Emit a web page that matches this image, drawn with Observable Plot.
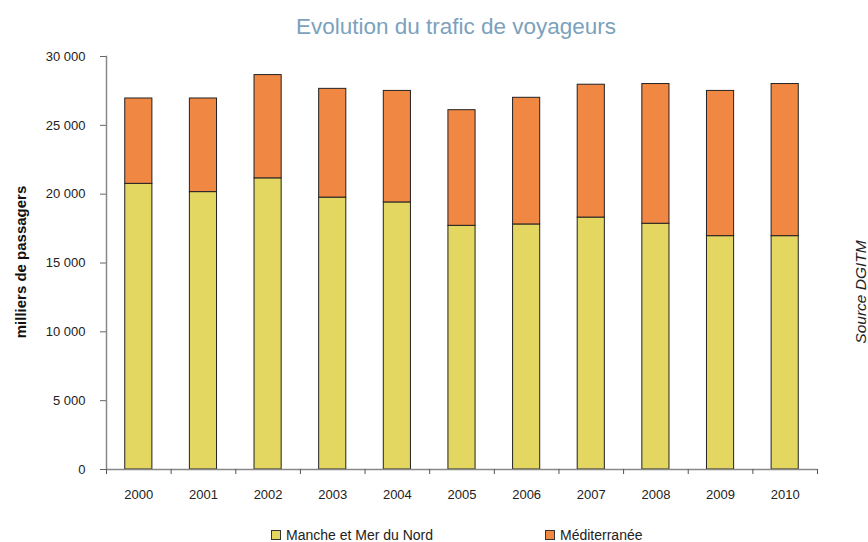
<!DOCTYPE html>
<html>
<head>
<meta charset="utf-8">
<script src="https://cdn.jsdelivr.net/npm/d3@7"></script>
<script src="https://cdn.jsdelivr.net/npm/@observablehq/plot@0.6"></script>
<style>
  html, body { margin: 0; padding: 0; background: #fff; }
  #wrap { position: relative; width: 868px; height: 542px; overflow: hidden; font-family: "Liberation Sans", Arial, sans-serif; color: #222; }
  #chart { position: absolute; left: 0; top: 0; }
  .abs { position: absolute; white-space: nowrap; }
  #title { left: 0; width: 912px; top: 14px; text-align: center; font-size: 22.5px; color: #7ba2bd; }
  #ylabel { left: 20px; top: 262px; transform: translate(-50%, -50%) rotate(-90deg); font-size: 15px; font-weight: bold; color: #111; }
  #source { left: 861px; top: 292px; transform: translate(-50%, -50%) rotate(-90deg); font-size: 15.5px; font-style: italic; color: #222; }
  #legend { left: 0; top: 527px; width: 868px; height: 15px; font-size: 14px; }
  .item { position: absolute; top: 0; display: flex; align-items: center; }
  .sw { width: 8px; height: 8px; border: 1px solid #333; margin-right: 5px; }
</style>
</head>
<body>
<div id="wrap">
  <div id="chart"></div>
  <div id="title" class="abs">Evolution du trafic de voyageurs</div>
  <div id="ylabel" class="abs">milliers de passagers</div>
  <div id="source" class="abs">Source DGITM</div>
  <div id="legend" class="abs"></div>
</div>
<script>
const years = ["2000", "2001", "2002", "2003", "2004", "2005", "2006", "2007", "2008", "2009", "2010"];
const manche = [20750, 20150, 21150, 19750, 19400, 17700, 17800, 18300, 17850, 16950, 16950];
const mediterranee = [6200, 6800, 7500, 7900, 8100, 8400, 9200, 9650, 10150, 10550, 11050];
const seriesNames = ["Manche et Mer du Nord", "Méditerranée"];
const seriesColors = ["#e3d762", "#f08743"];
const yTicks = [0, 5000, 10000, 15000, 20000, 25000, 30000];

const W = 868, H = 542, ML = 106, MR = 51, MT = 56, MB = 73;
const step = (W - ML - MR) / years.length;
const fmt = d => d3.format(",")(d).replace(/,/g, " ");

const rows = [
  ...years.map((y, i) => ({year: y, serie: seriesNames[0], value: manche[i]})),
  ...years.map((y, i) => ({year: y, serie: seriesNames[1], value: mediterranee[i]}))
];

const chart = Plot.plot({
  width: W, height: H,
  marginLeft: ML, marginRight: MR, marginTop: MT, marginBottom: MB,
  style: {fontFamily: "'Liberation Sans', Arial, sans-serif", fontSize: "13px", color: "#222", background: "transparent"},
  x: {type: "band", domain: years, paddingInner: 0.58, paddingOuter: 0.29, round: false, axis: null, label: null},
  y: {domain: [0, 30000], axis: null, label: null},
  color: {domain: seriesNames, range: seriesColors},
  marks: [
    Plot.barY(rows, {x: "year", y: "value", fill: "serie", stroke: "#222", strokeWidth: 1}),
    Plot.ruleY([0], {stroke: "#888", strokeWidth: 1.5}),
    Plot.frame({anchor: "left", stroke: "#888", strokeWidth: 1.5}),
    Plot.axisY(yTicks, {tickSize: 6, tickPadding: 15, tickFormat: fmt, stroke: "#666", fill: "#222", label: null}),
    Plot.axisX({tickSize: 0, tickPadding: 20, fill: "#222", label: null}),
    Plot.axisX(years, {tickSize: 5, tickFormat: () => "", dx: step / 2, stroke: "#555", label: null}),
    Plot.axisX([years[0]], {tickSize: 5, tickFormat: () => "", dx: -step / 2, stroke: "#555", label: null})
  ]
});
document.getElementById("chart").appendChild(chart);

const legend = document.getElementById("legend");
const legendX = [271, 545];
seriesNames.forEach((name, i) => {
  const item = document.createElement("div");
  item.className = "item";
  item.style.left = legendX[i] + "px";
  const sw = document.createElement("div");
  sw.className = "sw";
  sw.style.background = seriesColors[i];
  const label = document.createElement("span");
  label.textContent = name;
  item.appendChild(sw);
  item.appendChild(label);
  legend.appendChild(item);
});
</script>
</body>
</html>
